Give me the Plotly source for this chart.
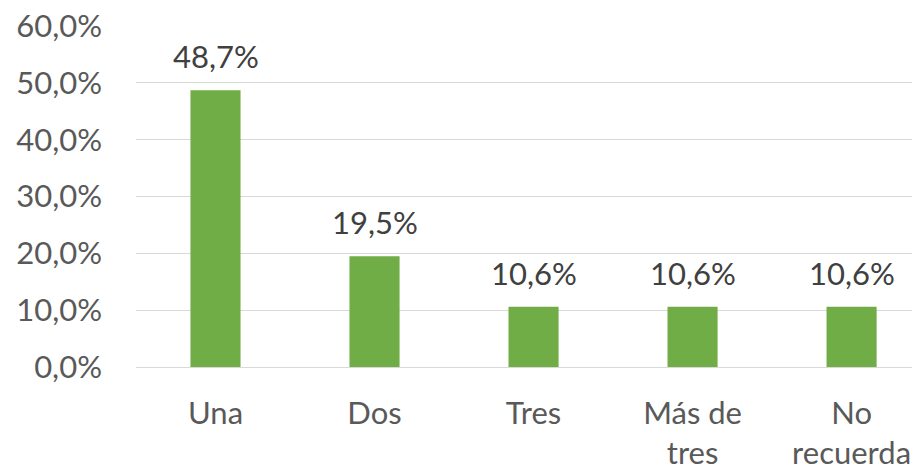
import plotly.graph_objects as go

categories = ["Una", "Dos", "Tres", "Más de<br>tres", "No<br>recuerda"]
values = [48.7, 19.5, 10.6, 10.6, 10.6]
y_ticks = [0, 10, 20, 30, 40, 50, 60]
y_tick_labels = ["0,0%", "10,0%", "20,0%", "30,0%", "40,0%", "50,0%", "60,0%"]

FONT = "Lato, Carlito, Calibri, sans-serif"

fig = go.Figure()
fig.add_trace(go.Bar(
    x=list(range(len(categories))), y=values,
    width=0.315, marker=dict(color="#70AD47", line=dict(width=0)),
    hoverinfo="skip",
))
for i, v in enumerate(values):
    fig.add_annotation(x=i, y=v, text=f"{v:.1f}%".replace(".", ","),
                       showarrow=False, yanchor="bottom", yshift=13,
                       font=dict(family=FONT, size=31, color="#404040"))

fig.update_layout(
    width=912, height=468,
    margin=dict(l=136, r=0, t=26, b=101, autoexpand=False),
    paper_bgcolor="white", plot_bgcolor="white",
    showlegend=False,
    font=dict(family=FONT, size=31, color="#595959"),
    xaxis=dict(tickvals=list(range(len(categories))), ticktext=categories,
               range=[-0.5, 4.38], showgrid=False, zeroline=False,
               showline=False, ticks="", ticklabelstandoff=25, automargin=False,
               ticklabeloverflow="allow"),
    yaxis=dict(range=[0, 60], tickvals=y_ticks, ticktext=y_tick_labels,
               showgrid=True, gridcolor="#D9D9D9", gridwidth=1.3,
               zeroline=True, zerolinecolor="#D9D9D9", zerolinewidth=1.3,
               ticks="", ticklabelstandoff=33, automargin=False,
               ticklabeloverflow="allow"),
)
fig.write_html("out.html", config={"displayModeBar": False},
               post_script="document.body.style.margin='0';document.body.style.overflow='hidden';")
